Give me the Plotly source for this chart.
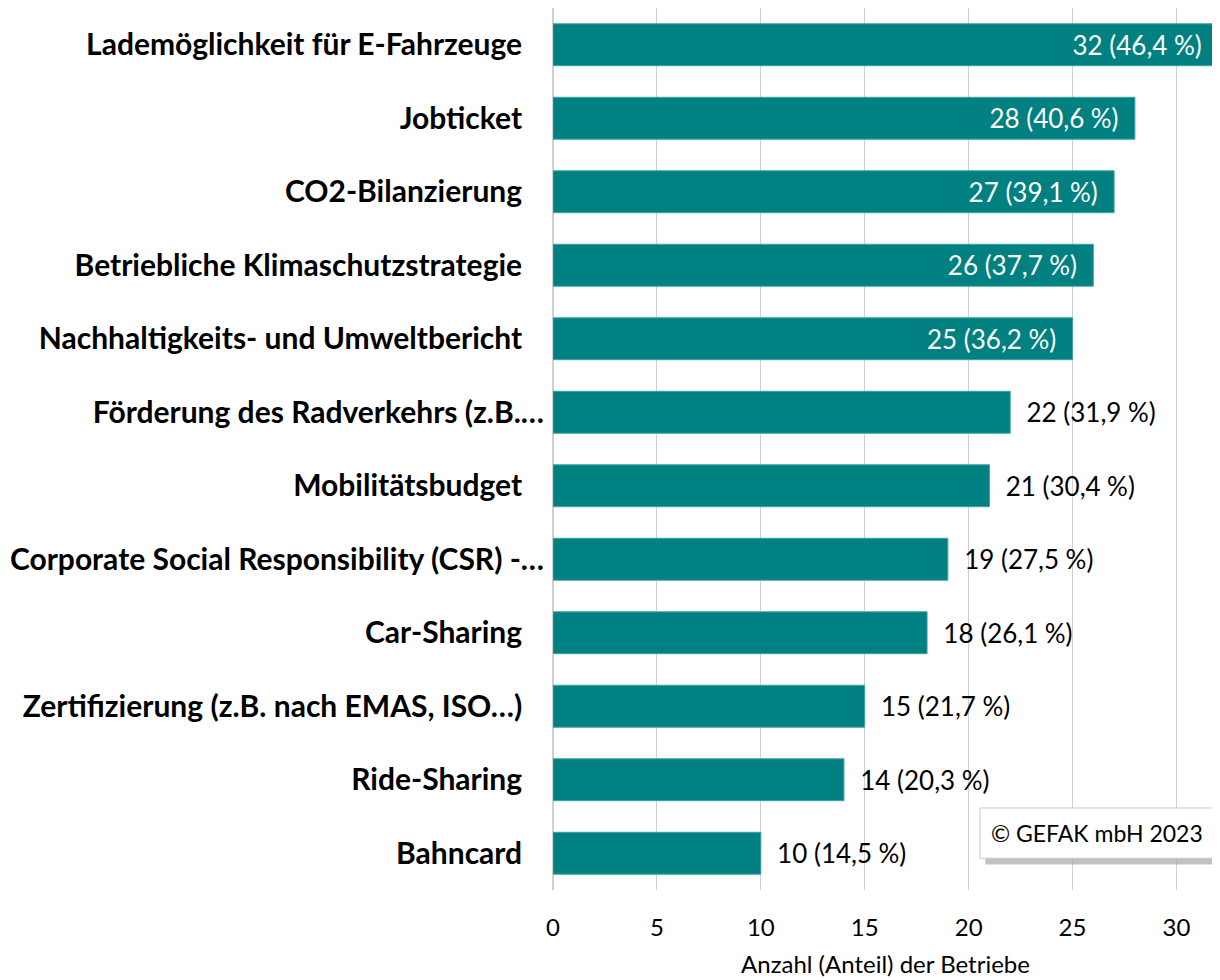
import plotly.graph_objects as go

categories = [
    "Lademöglichkeit für E-Fahrzeuge",
    "Jobticket",
    "CO2-Bilanzierung",
    "Betriebliche Klimaschutzstrategie",
    "Nachhaltigkeits- und Umweltbericht",
    "Förderung des Radverkehrs (z.B.…",
    "Mobilitätsbudget",
    "Corporate Social Responsibility (CSR) -…",
    "Car-Sharing",
    "Zertifizierung (z.B. nach EMAS, ISO…)",
    "Ride-Sharing",
    "Bahncard",
]
counts = [32, 28, 27, 26, 25, 22, 21, 19, 18, 15, 14, 10]
shares = [46.4, 40.6, 39.1, 37.7, 36.2, 31.9, 30.4, 27.5, 26.1, 21.7, 20.3, 14.5]
inside_flags = [True, True, True, True, True, False, False, False, False, False, False, False]
tick_vals = [0, 5, 10, 15, 20, 25, 30]

FONT = "Lato"
NB = "\u00a0"

labels = []
for c, s, f in zip(counts, shares, inside_flags):
    t = f"{c} ({str(s).replace('.', ',')}\u202f%)"
    labels.append(t + NB * 2 if f else NB * 2 + t)
ylabels = [c if c.endswith("…") else c + NB * 3 for c in categories]

fig = go.Figure()
fig.add_trace(go.Bar(
    x=counts,
    y=ylabels,
    orientation="h",
    marker=dict(color="#008080", line=dict(color="#3aa3a3", width=1)),
    width=0.57,
    text=labels,
    textposition=["inside" if f else "outside" for f in inside_flags],
    insidetextanchor="end",
    textfont=dict(family=FONT, size=26, color=["white" if f else "black" for f in inside_flags]),
    cliponaxis=False,
    constraintext="none",
))

fig.update_layout(
    width=1212, height=972,
    margin=dict(l=545, r=2, t=0, b=90),
    plot_bgcolor="white", paper_bgcolor="white",
    showlegend=False,
    font=dict(family=FONT, color="black"),
    xaxis=dict(
        range=[0, 32],
        tickvals=tick_vals,
        tickfont=dict(size=24, family=FONT),
        showgrid=True, gridcolor="#d0d0d0", gridwidth=1,
        zeroline=True, zerolinecolor="#d0d0d0",
        showline=False,
        ticks="", ticklabelstandoff=21,
        title=dict(text="Anzahl (Anteil) der Betriebe", font=dict(size=24, family=FONT), standoff=16),
    ),
    yaxis=dict(
        autorange="reversed",
        tickfont=dict(size=30, family=FONT, color="black", weight="bold"),
        showgrid=False, ticks="", ticklabelstandoff=8,
        showline=False,
    ),
)

# copyright box with shadow
fig.add_shape(type="rect", xref="paper", yref="paper",
              x0=0.650, x1=1.02, y0=0.029, y1=0.086,
              fillcolor="#a8a8a8", line=dict(width=0), opacity=0.7, layer="above")
fig.add_shape(type="rect", xref="paper", yref="paper",
              x0=0.642, x1=1.012, y0=0.036, y1=0.093,
              fillcolor="white", line=dict(color="#c8c8c8", width=1), layer="above")
fig.add_annotation(
    xref="paper", yref="paper", x=0.818, y=0.0645, xanchor="center", yanchor="middle",
    text="© GEFAK mbH 2023", showarrow=False,
    font=dict(size=23, family=FONT, color="black"),
)

fig.write_html("out.html")
